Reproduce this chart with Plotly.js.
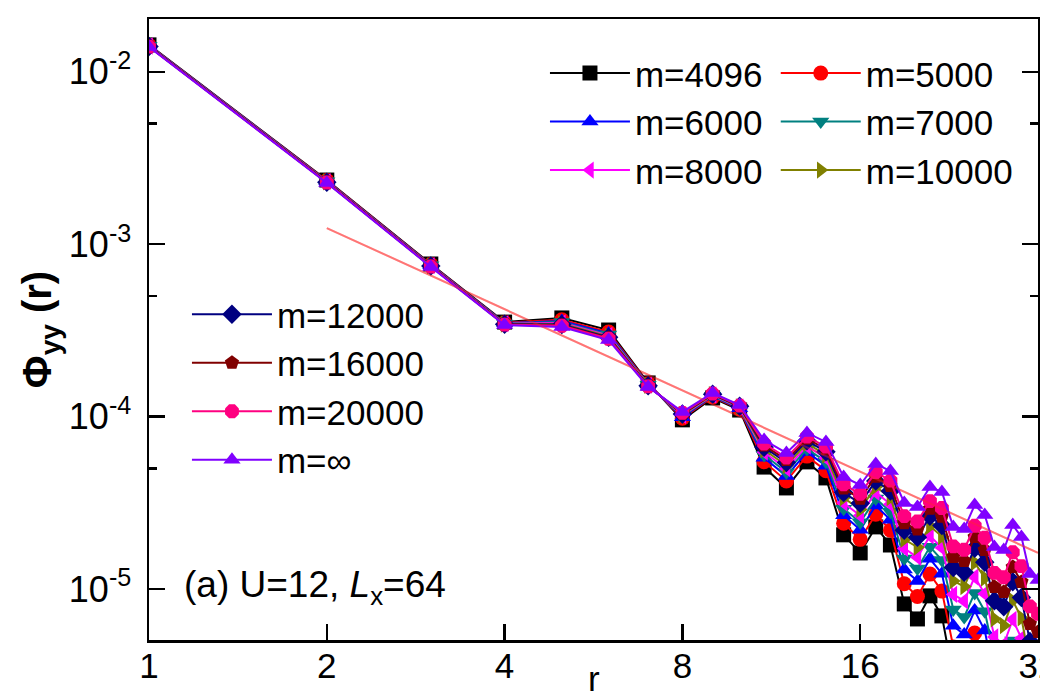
<!DOCTYPE html>
<html>
<head>
<meta charset="utf-8">
<script src="https://cdn.plot.ly/plotly-3.0.1.min.js"></script>
<style>html,body{margin:0;padding:0;background:#fff;}#chart{width:1040px;height:698px;}</style>
</head>
<body>
<div id="chart"></div>
<script>
const r = [1,2,3,4,5,6,7,8,9,10,11,12,13,14,15,16,17,18,19,20,21,22,23,24,25,26,27,28,29,30,31,32];

const m4096 = [1.432e-2,2.355e-3,7.674e-4,3.532e-4,3.733e-4,3.177e-4,1.567e-4,9.57e-5,1.282e-4,1.091e-4,5.093e-5,3.855e-5,5.458e-5,4.406e-5,2.061e-5,1.618e-5,2.291e-5,1.799e-5,8.19e-6,6.70e-6,9.12e-6,6.98e-6,3.09e-6,2.63e-6,3.62e-6,2.59e-6,1.21e-6,1.02e-6,1.42e-6,9.9e-7,4.3e-7,3.5e-7];
const m5000 = [1.424e-2,2.337e-3,7.616e-4,3.504e-4,3.643e-4,3.093e-4,1.552e-4,9.77e-5,1.300e-4,1.106e-4,5.475e-5,4.232e-5,5.897e-5,4.851e-5,2.405e-5,1.940e-5,2.710e-5,2.192e-5,1.072e-5,9.04e-6,1.220e-5,9.72e-6,4.61e-6,4.03e-6,5.55e-6,4.14e-6,2.07e-6,1.79e-6,2.49e-6,1.81e-6,8.5e-7,7.0e-7];
const m6000 = [1.419e-2,2.324e-3,7.574e-4,3.485e-4,3.584e-4,3.036e-4,1.539e-4,9.92e-5,1.312e-4,1.117e-4,5.760e-5,4.519e-5,6.224e-5,5.189e-5,2.681e-5,2.203e-5,3.049e-5,2.517e-5,1.295e-5,1.114e-5,1.496e-5,1.226e-5,6.11e-6,5.44e-6,7.49e-6,5.74e-6,3.01e-6,2.64e-6,3.69e-6,2.76e-6,1.35e-6,1.14e-6];
const m7000 = [1.415e-2,2.314e-3,7.542e-4,3.470e-4,3.537e-4,2.992e-4,1.530e-4,1.004e-4,1.321e-4,1.125e-4,5.992e-5,4.757e-5,6.495e-5,5.470e-5,2.919e-5,2.434e-5,3.343e-5,2.805e-5,1.502e-5,1.314e-5,1.755e-5,1.471e-5,7.61e-6,6.88e-6,9.48e-6,7.43e-6,4.04e-6,3.60e-6,5.02e-6,3.84e-6,1.95e-6,1.67e-6];
const m8000 = [1.411e-2,2.305e-3,7.512e-4,3.457e-4,3.495e-4,2.952e-4,1.522e-4,1.015e-4,1.330e-4,1.132e-4,6.213e-5,4.985e-5,6.751e-5,5.741e-5,3.153e-5,2.666e-5,3.636e-5,3.097e-5,1.719e-5,1.526e-5,2.030e-5,1.735e-5,9.30e-6,8.52e-6,1.173e-5,9.38e-6,5.27e-6,4.76e-6,6.65e-6,5.18e-6,2.72e-6,2.36e-6];
const m10000 = [1.407e-2,2.297e-3,7.484e-4,3.444e-4,3.457e-4,2.917e-4,1.515e-4,1.024e-4,1.339e-4,1.139e-4,6.419e-5,5.199e-5,6.990e-5,5.996e-5,3.381e-5,2.892e-5,3.923e-5,3.385e-5,1.941e-5,1.746e-5,2.315e-5,2.015e-5,1.114e-5,1.033e-5,1.422e-5,1.158e-5,6.70e-6,6.13e-6,8.56e-6,6.79e-6,3.67e-6,3.23e-6];
const m12000 = [1.403e-2,2.289e-3,7.459e-4,3.432e-4,3.420e-4,2.882e-4,1.508e-4,1.034e-4,1.347e-4,1.146e-4,6.631e-5,5.423e-5,7.237e-5,6.260e-5,3.625e-5,3.137e-5,4.230e-5,3.700e-5,2.192e-5,1.998e-5,2.639e-5,2.338e-5,1.334e-5,1.251e-5,1.723e-5,1.429e-5,8.53e-6,7.89e-6,1.102e-5,8.91e-6,4.96e-6,4.41e-6];
const m16000 = [1.401e-2,2.283e-3,7.438e-4,3.422e-4,3.391e-4,2.855e-4,1.502e-4,1.042e-4,1.353e-4,1.151e-4,6.801e-5,5.603e-5,7.438e-5,6.474e-5,3.826e-5,3.343e-5,4.487e-5,3.964e-5,2.409e-5,2.218e-5,2.921e-5,2.626e-5,1.535e-5,1.453e-5,2.001e-5,1.683e-5,1.028e-5,9.60e-6,1.341e-5,1.099e-5,6.27e-6,5.63e-6];
const m20000 = [1.398e-2,2.277e-3,7.418e-4,3.413e-4,3.363e-4,2.829e-4,1.496e-4,1.050e-4,1.359e-4,1.157e-4,6.975e-5,5.789e-5,7.643e-5,6.695e-5,4.040e-5,3.562e-5,4.759e-5,4.248e-5,2.647e-5,2.463e-5,3.235e-5,2.948e-5,1.766e-5,1.688e-5,2.325e-5,1.982e-5,1.239e-5,1.169e-5,1.632e-5,1.356e-5,7.92e-6,7.18e-6];
const mInf = [1.393e-2,2.265e-3,7.379e-4,3.396e-4,3.311e-4,2.780e-4,1.486e-4,1.064e-4,1.371e-4,1.167e-4,7.311e-5,6.152e-5,8.035e-5,7.129e-5,4.467e-5,4.009e-5,5.309e-5,4.831e-5,3.155e-5,2.992e-5,3.908e-5,3.656e-5,2.291e-5,2.228e-5,3.069e-5,2.685e-5,1.754e-5,1.683e-5,2.350e-5,2.004e-5,1.222e-5,1.127e-5];

const fitR = [2, 32];
const fitY = [1.24e-3, 1.62e-5];

const seriesNames = ["m=4096","m=5000","m=6000","m=7000","m=8000","m=10000","m=12000","m=16000","m=20000","m=\u221e"];
const seriesData = [m4096,m5000,m6000,m7000,m8000,m10000,m12000,m16000,m20000,mInf];
const seriesColors = ["#000000","#FF0000","#0000FF","#008080","#FF00FF","#808000","#000080","#800000","#FF0080","#8000FF"];
const seriesSymbols = ["square","circle","triangle-up","triangle-down","triangle-left","triangle-right","diamond","pentagon","octagon","triangle-up"];
const seriesLegend = ["legend","legend3","legend","legend3","legend","legend3","legend2","legend2","legend2","legend2"];

const xTickVals = [1,2,4,8,16,32];
const xTickText = ["1","2","4","8","16","32"];
const yTickVals = [1e-5,1e-4,1e-3,1e-2];
const yTickText = ["10<sup>-5</sup>","10<sup>-4</sup>","10<sup>-3</sup>","10<sup>-2</sup>"];
const yMinorVals = [5e-6,5e-5,5e-4,5e-3];

const FONT = "Liberation Sans, Arial, sans-serif";

const fitTrace = {
  x: fitR, y: fitY, mode: "lines", showlegend: false, hoverinfo: "skip",
  line: {color: "rgba(255,40,40,0.4)", width: 2}
};
const traces = [fitTrace];
for (let i = 0; i < seriesNames.length; i++) {
  traces.push({
    x: r, y: seriesData[i], name: seriesNames[i], legend: seriesLegend[i],
    mode: "lines+markers",
    line: {color: seriesColors[i], width: 2},
    marker: {color: seriesColors[i], symbol: seriesSymbols[i], size: 15, line: {width: 0}}
  });
}
traces.push(Object.assign({}, fitTrace));

function legendBox(x, y) {
  return {
    x: x, y: y, xanchor: "left", yanchor: "top", orientation: "v",
    itemwidth: 80, bgcolor: "rgba(0,0,0,0)", borderwidth: 0,
    font: {family: FONT, size: 35}, tracegroupgap: 0
  };
}

const layout = {
  width: 1040, height: 698,
  margin: {l: 149, r: 2, t: 19, b: 58},
  paper_bgcolor: "#ffffff", plot_bgcolor: "#ffffff",
  font: {family: FONT, size: 35, color: "#000"},
  showlegend: true,
  xaxis: {
    type: "log", range: [0, Math.log10(32) + 1e-6],
    tickmode: "array", tickvals: xTickVals, ticktext: xTickText,
    ticks: "inside", ticklen: 16, tickwidth: 2.5, tickcolor: "#000",
    showline: true, linewidth: 2.5, linecolor: "#000", mirror: true,
    showgrid: false, zeroline: false, ticklabelstandoff: -7,
    ticklabeloverflow: "allow",
    tickfont: {family: FONT, size: 35}
  },
  yaxis: {
    type: "log", range: [-5.296, -1.694],
    tickmode: "array", tickvals: yTickVals, ticktext: yTickText,
    ticks: "inside", ticklen: 16, tickwidth: 2.5, tickcolor: "#000",
    showline: true, linewidth: 2.5, linecolor: "#000", mirror: "allticks",
    showgrid: false, zeroline: false, ticklabelstandoff: 8,
    tickfont: {family: FONT, size: 36},
    minor: {tickmode: "array", tickvals: yMinorVals, ticks: "inside", ticklen: 8, tickwidth: 2.5, tickcolor: "#000", showgrid: false}
  },
  legend: legendBox(0.4454, 0.960),
  legend3: legendBox(0.705, 0.960),
  legend2: legendBox(0.0427, 0.5716),
  annotations: [
    {text: "(a) U=12, <i>L</i><sub>x</sub>=64", xref: "paper", yref: "paper",
     x: 0.037, y: 0.0853, xanchor: "left", yanchor: "middle", showarrow: false,
     font: {family: FONT, size: 37}},
    {text: "<b>\u03a6<sub>yy</sub> (r)</b>", xref: "paper", yref: "paper",
     x: -0.123, y: 0.5, xanchor: "center", yanchor: "middle", textangle: -90, showarrow: false,
     font: {family: FONT, size: 40}},
    {text: "r", xref: "paper", yref: "paper",
     x: 0.5, y: -0.062, xanchor: "center", yanchor: "middle", showarrow: false,
     font: {family: FONT, size: 35}}
  ]
};

Plotly.newPlot("chart", traces, layout, {displayModeBar: false, staticPlot: true});
</script>
</body>
</html>
